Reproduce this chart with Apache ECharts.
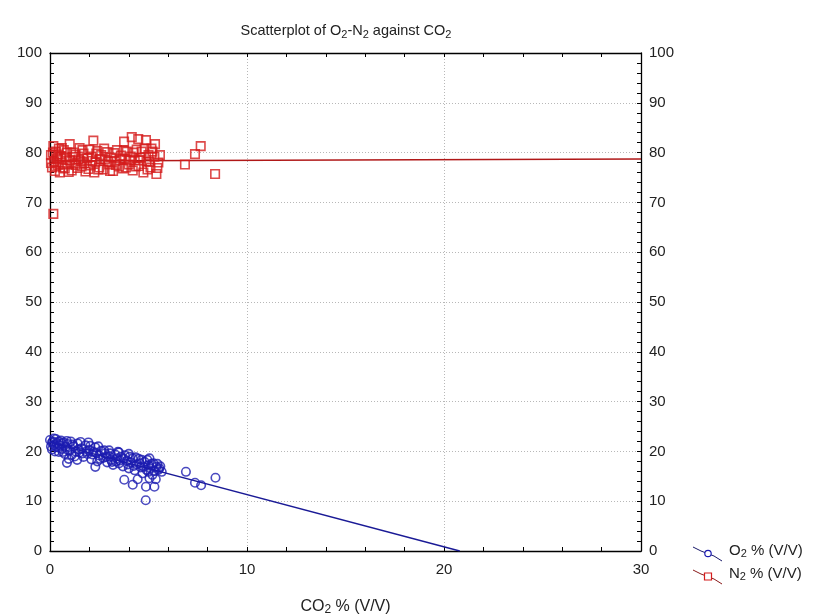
<!DOCTYPE html>
<html><head><meta charset="utf-8">
<script src="https://cdn.jsdelivr.net/npm/echarts@6/dist/echarts.min.js"></script>
<style>html,body{margin:0;padding:0;background:#fff}#c{width:824px;height:616px}</style>
</head><body><div id="c"></div>
<script>
// CO2 % (x) and O2 % (y)
const o2Points = [
[0.0,22.3],[0.05,21.0],[0.1,20.4],[0.15,22.0],[0.2,21.3],[0.25,20.0],[0.3,22.5],[0.35,21.7],[0.4,20.8],[0.45,19.9],
[0.5,21.2],[0.55,22.2],[0.6,20.5],[0.7,21.8],[0.75,19.5],[0.8,20.9],[0.86,17.7],[0.9,21.5],[0.95,18.5],[1.0,20.2],
[1.05,22.0],[1.1,19.3],[1.2,21.0],[1.3,20.0],[1.38,18.3],[1.4,21.6],[1.5,19.8],[1.6,20.6],[1.7,18.9],[1.8,21.2],
[1.9,19.5],[1.95,21.8],[2.0,20.3],[2.1,18.4],[2.2,19.9],[2.3,20.8],[2.3,16.9],[2.4,18.0],[2.5,19.2],[2.6,20.1],
[2.7,18.7],[2.8,19.6],[2.9,17.8],[3.0,19.0],[3.0,20.2],[3.1,18.3],[3.2,17.3],[3.3,19.4],[3.4,18.6],[3.5,17.6],
[3.5,19.8],[3.6,18.9],[3.7,17.0],[3.8,19.2],[3.77,14.3],[3.9,18.1],[4.0,16.6],[4.0,19.5],[4.1,17.8],[4.2,13.3],
[4.2,18.6],[4.3,16.2],[4.4,17.4],[4.45,14.4],[4.5,18.5],[4.6,16.8],[4.7,15.6],[4.8,17.9],[4.87,12.9],[4.86,10.2],
[4.9,16.3],[4.94,18.3],[5.0,15.9],[5.0,17.2],[5.1,16.6],[5.2,15.3],[5.25,17.6],[5.3,12.9],[5.37,14.4],[5.4,16.9],
[5.5,16.3],[5.67,15.9],[5.6,17.0],[6.9,15.9],[7.36,13.7],[7.67,13.2],[8.4,14.7],
[0.1,21.8],[0.2,22.6],[0.3,20.9],[0.45,22.0],[0.6,21.6],[0.65,19.9],[0.85,22.1],[0.9,20.3],[1.15,21.4],[1.25,19.0],
[1.45,20.4],[1.55,21.9],[1.65,19.6],[1.85,20.0],[2.05,21.1],[2.15,19.4],[2.35,19.7],[2.45,21.0],[2.55,18.5],[2.75,20.2],
[2.85,18.9],[3.05,19.6],[3.15,17.9],[3.35,18.0],[3.45,19.9],[3.55,18.2],[3.75,18.5],[3.95,17.4],[4.05,18.9],[4.25,17.1],
[4.35,18.8],[4.55,17.6],[4.65,18.3],[4.75,16.9],[5.05,18.6],[5.15,17.5],[5.3,16.1],[5.45,17.5],[5.55,16.6],[5.05,14.6]
];
// CO2 % (x) and N2 % (y)
const n2Points = [
[0.05,79.5],[0.1,77.0],[0.17,81.3],[0.17,67.7],[0.2,78.2],[0.25,76.3],[0.3,80.2],[0.35,78.8],[0.4,77.5],[0.45,80.8],
[0.5,76.0],[0.55,79.3],[0.6,78.0],[0.7,80.5],[0.75,76.8],[0.8,79.0],[0.9,77.6],[1.0,81.7],[1.0,78.5],[1.1,76.4],
[1.2,80.0],[1.25,77.8],[1.3,79.6],[1.4,76.9],[1.5,80.9],[1.55,78.3],[1.6,77.2],[1.7,79.8],[1.8,76.2],[1.9,78.9],
[2.0,80.6],[2.05,77.4],[2.1,79.2],[2.2,82.4],[2.25,76.0],[2.3,78.0],[2.4,80.3],[2.5,77.0],[2.6,79.5],[2.7,76.6],
[2.8,78.6],[2.9,80.1],[3.0,77.6],[3.1,79.0],[3.2,76.3],[3.3,78.3],[3.4,80.5],[3.5,77.2],[3.6,79.4],[3.7,76.8],
[3.76,82.2],[3.8,78.8],[3.9,80.2],[4.0,77.6],[4.1,79.2],[4.15,83.1],[4.2,76.4],[4.3,78.5],[4.4,80.6],[4.48,82.7],
[4.5,77.3],[4.6,79.0],[4.74,76.0],[4.8,80.8],[4.87,82.5],[4.9,78.2],[5.0,79.5],[5.1,77.0],[5.2,80.2],[5.33,81.7],
[5.4,75.7],[5.5,78.0],[5.58,79.5],[6.85,77.6],[7.36,79.7],[7.65,81.3],[8.38,75.7],
[0.05,77.9],[0.15,80.0],[0.3,77.2],[0.4,79.6],[0.6,80.9],[0.65,77.0],[0.85,80.0],[0.95,76.1],[1.15,79.1],[1.3,77.5],
[1.45,78.6],[1.65,80.5],[1.75,77.8],[1.95,76.7],[2.15,78.3],[2.35,79.8],[2.45,76.6],[2.55,78.7],[2.75,80.8],[2.95,78.2],
[3.05,76.3],[3.25,79.9],[3.35,77.5],[3.55,78.5],[3.75,80.4],[3.85,77.0],[4.05,78.4],[4.25,80.0],[4.35,77.2],[4.55,78.4],
[4.65,80.2],[4.95,76.6],[5.05,78.1],[5.15,80.8],[5.3,79.2],[5.45,76.9]
];
// fitted lines (endpoints)
const o2Fit = [[0, 21.8], [20.8, 0]];
const n2Fit = [[0, 78.3], [30, 78.7]];

const blue = '#1b1bb0', red = '#d41c1c';
const font = 'Liberation Sans, Arial, sans-serif';
const mkSub = (fs, pad) => ({ fontSize: fs, fontFamily: font, color: '#222', padding: [pad, 0, 0, 0] });
const axisCommon = {
  min: 0, interval: 10,
  axisLine: { show: true, onZero: false, lineStyle: { color: '#000', width: 1.3 } },
  axisTick: { show: true, inside: true, length: 4, lineStyle: { color: '#000' } },
  minorTick: { show: true, splitNumber: 5, length: 4, lineStyle: { color: '#000' } },
  axisLabel: { color: '#222', fontSize: 15, fontFamily: font, margin: 8 }
};
const chart = echarts.init(document.getElementById('c'), null, { renderer: 'canvas' });
chart.setOption({
  animation: false,
  backgroundColor: '#fff',
  title: {
    text: 'Scatterplot of O{s|2}-N{s|2} against CO{s|2}',
    left: 341, top: 17, textAlign: 'center',
    textStyle: { fontSize: 14.5, fontWeight: 'normal', color: '#222', fontFamily: font, rich: { s: mkSub(11, 7) } }
  },
  grid: { left: 50, right: 183, top: 53, bottom: 65, containLabel: false, outerBoundsMode: 'none' },
  xAxis: [
    Object.assign({}, axisCommon, { type: 'value', max: 30, position: 'bottom',
      name: 'CO{s|2} % (V/V)', nameLocation: 'middle', nameGap: 46,
      nameTextStyle: { fontSize: 16, color: '#222', fontFamily: font, rich: { s: mkSub(12, 7) } },
      axisLabel: Object.assign({}, axisCommon.axisLabel, { margin: 11 }),
      splitLine: { show: true, lineStyle: { type: [1, 2], color: '#b8b8b8' } } }),
    Object.assign({}, axisCommon, { type: 'value', max: 30, position: 'top',
      axisLabel: { show: false }, splitLine: { show: false } })
  ],
  yAxis: [
    Object.assign({}, axisCommon, { type: 'value', max: 100, position: 'left',
      splitLine: { show: true, lineStyle: { type: [1, 2], color: '#b8b8b8' } } }),
    Object.assign({}, axisCommon, { type: 'value', max: 100, position: 'right',
      splitLine: { show: false } })
  ],
  series: [
    { type: 'line', data: o2Fit, symbol: 'none', lineStyle: { color: '#1a1a96', width: 1.4 }, z: 3 },
    { type: 'line', data: n2Fit, symbol: 'none', lineStyle: { color: '#b01818', width: 1.4 }, z: 3 },
    { type: 'scatter', data: o2Points, symbol: 'circle', symbolSize: 8.5,
      itemStyle: { color: 'rgba(255,255,255,0)', borderColor: blue, borderWidth: 1.6 }, z: 4 },
    { type: 'scatter', data: n2Points, symbol: 'rect', symbolSize: 8.5,
      itemStyle: { color: 'rgba(255,255,255,0)', borderColor: red, borderWidth: 1.6 }, z: 4 }
  ],
  graphic: [
    { type: 'polyline', shape: { points: [[693, 547], [701, 551], [714, 556], [722, 561]] }, style: { stroke: '#1a1a6a', lineWidth: 1, fill: null } },
    { type: 'circle', shape: { cx: 708, cy: 553.5, r: 3.2 }, style: { stroke: blue, lineWidth: 1.2, fill: '#fff' } },
    { type: 'text', left: 729, top: 543, style: { text: 'O{s|2} % (V/V)', fontSize: 15, fill: '#222', fontFamily: font, rich: { s: mkSub(11, 7) } } },
    { type: 'polyline', shape: { points: [[693, 570], [701, 574], [714, 579], [722, 584]] }, style: { stroke: '#8a1a1a', lineWidth: 1, fill: null } },
    { type: 'rect', shape: { x: 704.5, y: 573, width: 7, height: 7 }, style: { stroke: red, lineWidth: 1.2, fill: '#fff' } },
    { type: 'text', left: 729, top: 566, style: { text: 'N{s|2} % (V/V)', fontSize: 15, fill: '#222', fontFamily: font, rich: { s: mkSub(11, 7) } } }
  ]
});
</script>
</body></html>
